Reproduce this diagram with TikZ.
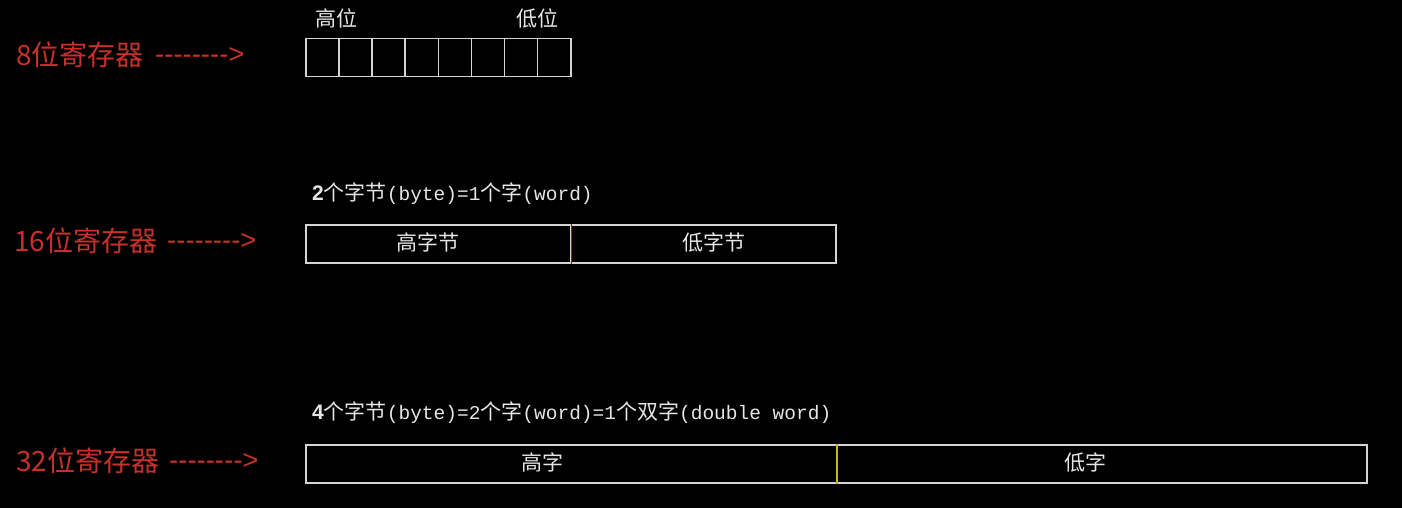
\documentclass[tikz,border=0pt]{standalone}
\usepackage{fontspec}
\newfontfamily\cjk{Noto Sans CJK SC}
\newfontfamily\monof{Liberation Mono}
\newfontfamily\sansf{Liberation Sans}
\definecolor{regred}{HTML}{C8302C}
\definecolor{linegray}{HTML}{D4D4D4}
\definecolor{textgray}{HTML}{E6E6E6}
\definecolor{divred}{HTML}{B01E1E}
\definecolor{divyellow}{HTML}{C8B41E}
\newcommand{\mz}[1]{{\monof\fontsize{19.5}{19.5}\selectfont #1}}
\newcommand{\bz}[1]{{\sansf\bfseries\fontsize{21}{21}\selectfont #1}}
\begin{document}
\begin{tikzpicture}[x=1pt,y=-1pt,
  reglabel/.style={text=regred, font=\cjk\fontsize{28}{28}\selectfont, anchor=west, inner sep=0pt},
  regarrow/.style={text=regred, font=\sansf\fontsize{27.5}{27.5}\selectfont, anchor=west, inner sep=0pt},
  cell/.style={draw=linegray, line width=1.5pt, minimum width=33.125pt, minimum height=38pt, inner sep=0pt, anchor=north west},
  half16/.style={draw=linegray, line width=1.5pt, minimum width=265pt, minimum height=38pt, inner sep=0pt, anchor=north west},
  half32/.style={draw=linegray, line width=1.5pt, minimum width=530.5pt, minimum height=38pt, inner sep=0pt, anchor=north west},
  boxtext/.style={text=textgray, font=\cjk\fontsize{21}{21}\selectfont, inner sep=0pt},
  caption/.style={text=textgray, font=\cjk\fontsize{21}{21}\selectfont, anchor=west, inner sep=0pt}]
\fill[black] (0,0) rectangle (1402,508);
\useasboundingbox (0,0) rectangle (1402,508);

% 8-bit register
\node[reglabel] (l8) at (16,55) {8位寄存器};
\node[regarrow] (a8) at (155,55) {-{}-{}-{}-{}-{}-{}-{}->};
\foreach \i in {0,...,7} {
  \node[cell] (c\i) at ({305+\i*33.125},38) {};
}
\node[boxtext] (hi8) at (336,18) {高位};
\node[boxtext] (lo8) at (537,18) {低位};

% 16-bit register
\node[caption] (cap16) at (312,194) {\bz{2}个字节\mz{(byte)=1}个字\mz{(word)}};
\node[reglabel] (l16) at (14,241) {16位寄存器};
\node[regarrow] (a16) at (167,241) {-{}-{}-{}-{}-{}-{}-{}->};
\node[half16] (h16) at (305,224) {};
\node[half16] (w16) at (570,224) {};
\draw[divred, line width=1.5pt] (h16.north east) -- (h16.south east);
\node[boxtext] at (428,242) {高字节};
\node[boxtext] at (714,242) {低字节};

% 32-bit register
\node[caption] (cap32) at (312,413) {\bz{4}个字节\mz{(byte)=2}个字\mz{(word)=1}个双字\mz{(double word)}};
\node[reglabel] (l32) at (16,461) {32位寄存器};
\node[regarrow] (a32) at (169,461) {-{}-{}-{}-{}-{}-{}-{}->};
\node[half32] (h32) at (305,444) {};
\node[half32] (w32) at (835.5,444) {};
\draw[divyellow, line width=1.5pt] (h32.north east) -- (h32.south east);
\node[boxtext] at (542,462) {高字};
\node[boxtext] at (1085,462) {低字};
\end{tikzpicture}
\end{document}
